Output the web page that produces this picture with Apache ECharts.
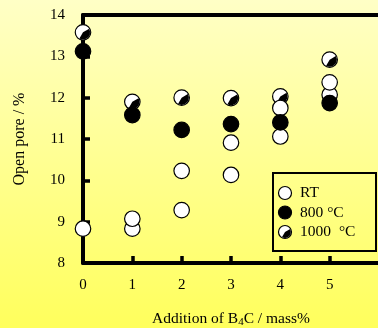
<!DOCTYPE html>
<html>
<head>
<meta charset="utf-8">
<script src="https://cdn.jsdelivr.net/npm/echarts@6/dist/echarts.min.js"></script>
<style>
    html,body{margin:0;padding:0;}
    #chart{width:378px;height:328px;}
</style>
</head>
<body>
<div id="chart"></div>
<script>
// 数据
var rtX = [0, 1, 1, 2, 2, 3, 3, 4, 4, 5, 5];
var rtY = [8.83, 8.83, 9.07, 9.28, 10.23, 10.13, 10.91, 11.06, 11.75, 12.07, 12.37];
var hotX = [0, 1, 2, 3, 4, 5];
var y800 = [13.12, 11.58, 11.22, 11.36, 11.40, 11.87];
var y1000 = [13.58, 11.90, 12.00, 11.99, 12.03, 12.92];
var xTicks = ['0', '1', '2', '3', '4', '5'];
var legendNames = ['RT', '800 {u|°C}', '1000 {w|°C}'];

var FONT = '"Liberation Serif", "Times New Roman", serif';
var DEG = Math.PI / 180;

function pairs(xs, ys){
    var out = [];
    for (var i = 0; i < xs.length; i++) {
        out.push([xs[i], ys[i]]);
    }
    return out;
}

// 半黑圆点
function halfDot(cx, cy, r){
    return {
        type: 'group',
        children: [
            {type: 'circle', shape: {cx: cx, cy: cy, r: r}, style: {fill: '#fff', stroke: '#000', lineWidth: 1.2}},
            {type: 'sector', shape: {cx: cx, cy: cy, r: r - 0.6, startAngle: -30 * DEG, endAngle: 120 * DEG, clockwise: true}, style: {fill: '#000'}}
        ]
    };
}

var myChart = echarts.init(document.getElementById('chart'));

var legendItems = [
    {type: 'rect', shape: {x: 273, y: 173, width: 103, height: 78}, style: {fill: 'none', stroke: '#000', lineWidth: 2}},
    {type: 'circle', shape: {cx: 285, cy: 193, r: 6.5}, style: {fill: '#fff', stroke: '#000', lineWidth: 1.2}},
    {type: 'circle', shape: {cx: 285, cy: 212.5, r: 6.5}, style: {fill: '#000', stroke: '#000', lineWidth: 1.2}},
    halfDot(285, 232, 6.5)
];
var legendY = [193, 212.5, 232];
for (var i = 0; i < legendNames.length; i++) {
    legendItems.push({
        type: 'text', x: 300, y: legendY[i],
        style: {
            text: legendNames[i], font: '15.5px ' + FONT, fill: '#000', verticalAlign: 'middle',
            rich: {
                u: {font: '15.5px ' + FONT, fill: '#000'},
                w: {font: '15.5px ' + FONT, fill: '#000', padding: [0, 0, 0, 4]}
            }
        }
    });
}

var opt = {
    backgroundColor: {
        type: 'linear', x: 0, y: 0, x2: 0, y2: 1,
        colorStops: [{offset: 0, color: '#ffffc6'}, {offset: 1, color: '#ffff5c'}]
    },
    animation: false,
    grid: {left: 83, right: -1, top: 15, bottom: 65, show: false, outerBoundsMode: 'none'},
    xAxis: [{
        type: 'value', min: 0, max: 6, interval: 1,
        name: 'Addition of B{sub|4}C / mass%',
        nameLocation: 'middle', nameGap: 46,
        nameTextStyle: {
            fontFamily: FONT, fontSize: 15.5, color: '#000',
            rich: {sub: {fontFamily: FONT, fontSize: 11, color: '#000', padding: [8, 0, 0, 0]}}
        },
        axisLine: {lineStyle: {color: '#000', width: 4}},
        axisTick: {inside: true, length: 7, lineStyle: {color: '#000', width: 3.5}},
        axisLabel: {
            margin: 15, fontFamily: FONT, fontSize: 15, color: '#000', showMaxLabel: false,
            formatter: function(v){ return xTicks[v] || ''; }
        },
        splitLine: {show: false}
    }, {
        type: 'value', min: 0, max: 6, position: 'top',
        axisLine: {show: true, lineStyle: {color: '#000', width: 4}},
        axisTick: {show: false}, axisLabel: {show: false}, splitLine: {show: false}
    }],
    yAxis: {
        type: 'value', min: 8, max: 14, interval: 1,
        name: 'Open pore / %',
        nameLocation: 'middle', nameGap: 55,
        nameTextStyle: {fontFamily: FONT, fontSize: 16, color: '#000'},
        axisLine: {show: true, lineStyle: {color: '#000', width: 4}},
        axisTick: {inside: true, length: 7, lineStyle: {color: '#000', width: 3.5}},
        axisLabel: {margin: 18, fontFamily: FONT, fontSize: 15, color: '#000'},
        splitLine: {show: false}
    },
    series: [{
        name: 'RT', type: 'scatter', clip: false,
        symbol: 'circle', symbolSize: 15.5,
        itemStyle: {color: '#fff', borderColor: '#000', borderWidth: 1.2, opacity: 1},
        data: pairs(rtX, rtY)
    }, {
        name: '800 °C', type: 'scatter', clip: false,
        symbol: 'circle', symbolSize: 15.5,
        itemStyle: {color: '#000', borderColor: '#000', borderWidth: 1.2, opacity: 1},
        data: pairs(hotX, y800)
    }, {
        name: '1000 °C', type: 'custom', clip: false,
        renderItem: function(params, api){
            var p = api.coord([api.value(0), api.value(1)]);
            return halfDot(p[0], p[1], 7.75);
        },
        data: pairs(hotX, y1000)
    }],
    graphic: legendItems
};

myChart.setOption(opt);
</script>
</body>
</html>
